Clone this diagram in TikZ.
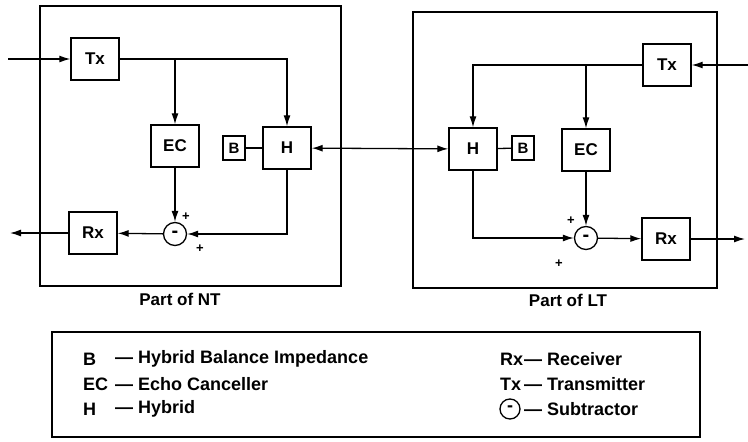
\documentclass[tikz,border=0pt]{standalone}
\usepackage{fontspec}
\setmainfont{Liberation Sans}
\usetikzlibrary{arrows.meta}

\begin{document}
\begin{tikzpicture}[x=1pt, y=-1pt, ->, >={Latex[length=11pt,width=7pt]}, block/.style = {draw, line width=1.4pt, minimum width=48pt, minimum height=42pt, inner sep=0pt, font=\fontsize{17}{20}\selectfont\bfseries}, small/.style = {draw, line width=1.3pt, minimum width=22pt, minimum height=24pt, inner sep=0pt, font=\fontsize{15}{18}\selectfont\bfseries}, sub/.style = {circle, draw, line width=1.3pt, minimum size=23pt, inner sep=0pt, font=\fontsize{20}{20}\selectfont\bfseries}, sign/.style = {inner sep=0pt, font=\fontsize{13}{14}\selectfont\bfseries}, txt/.style = {anchor=west, inner sep=0pt, font=\fontsize{18}{21}\selectfont\bfseries}, frame/.style = {draw, -, line width=1.4pt}, hv/.style = {to path={-| (\tikztotarget)}}, vh/.style = {to path={|- (\tikztotarget)}}, every edge/.append style={line width=1.3pt}]

\useasboundingbox (0,0) rectangle (748,442);

% the two units
\draw[frame] (40,6) rectangle (341,286);
\draw[frame] (413,12) rectangle (717,288);

\node[block] (tx1) at (95,59) {Tx};
\node[block] (ec1) at (175,146) {EC};
\node[small] (b1) at (234,148) {B};
\node[block] (h1) at (287,148) {H};
\node[block] (rx1) at (93,233) {Rx};
\node[sub] (s1) at (175,234) {-};

\node[block] (tx2) at (667,65) {Tx};
\node[block] (h2) at (473,149) {H};
\node[small] (b2) at (523,148) {B};
\node[block] (ec2) at (586,150) {EC};
\node[block] (rx2) at (666,239) {Rx};
\node[sub] (s2) at (586,238) {-};

\node[sign] (p1) at (186,217) {+};
\node[sign] (p2) at (200,249) {+};
\node[sign] (p3) at (571,221) {+};
\node[sign] (p4) at (559,264) {+};

\coordinate (in1) at (8,59);
\coordinate (out1) at (10,233);
\coordinate (in2) at (748,65);
\coordinate (out2) at (745,239);

\path
 (in1) edge (tx1)
 (tx1) edge[hv] (h1)
 (ec1 |- tx1) edge (ec1)
 (ec1) edge (s1)
 (h1) edge[vh] (s1)
 (s1) edge (rx1)
 (rx1) edge (out1)
 (b1) edge[-] (h1)
 (h1) edge[<->] (h2)
 (in2) edge (tx2)
 (tx2) edge[hv] (h2)
 (ec2 |- tx2) edge (ec2)
 (ec2) edge (s2)
 (h2) edge[vh] (s2)
 (s2) edge (rx2)
 (rx2) edge (out2)
 (h2) edge[-] (b2);

\node[font=\fontsize{17}{20}\selectfont\bfseries] (nt) at (180,299) {Part of NT};
\node[font=\fontsize{17}{20}\selectfont\bfseries] (lt) at (568,300) {Part of LT};

% legend
\draw[frame, line width=1.1pt] (52,332) rectangle (700,437);
\node[txt] (kb) at (83,359) {B};
\node[txt] (kec) at (83,384) {EC};
\node[txt] (kh) at (83,409) {H};
\node[txt] (db) at (115,359) {— Hybrid Balance Impedance};
\node[txt] (dec) at (115,384) {— Echo Canceller};
\node[txt] (dh) at (115,409) {— Hybrid};
\node[txt] (krx) at (500,359) {Rx};
\node[txt] (ktx) at (500,384) {Tx};
\node[sub, minimum size=20pt, font=\fontsize{18}{18}\selectfont\bfseries] (ks) at (510,409) {-};
\node[txt] (drx) at (524,359) {— Receiver};
\node[txt] (dtx) at (524,384) {— Transmitter};
\node[txt] (ds) at (524,409) {— Subtractor};
\end{tikzpicture}
\end{document}
